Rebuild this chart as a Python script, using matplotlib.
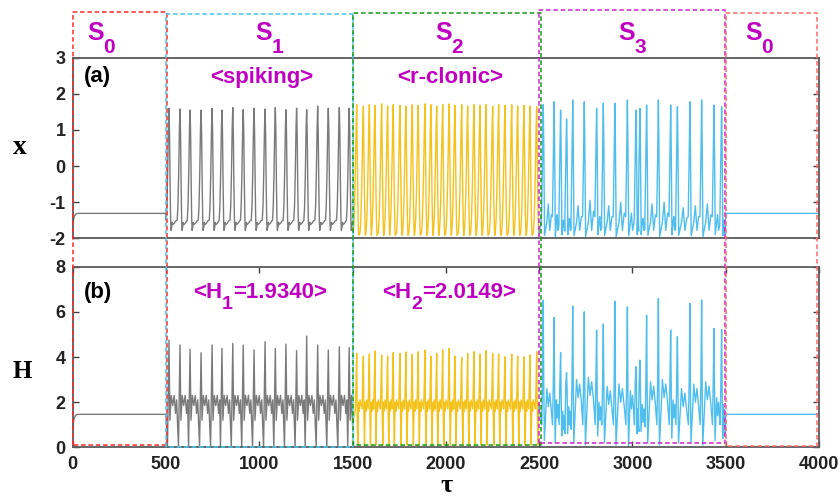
import matplotlib
matplotlib.use('Agg')
import matplotlib.pyplot as plt
from matplotlib.lines import Line2D

W, H = 840, 496

# ---------------- data ----------------
# S0 (rest state), start
s0_t = [0, 8, 18, 30, 500]
s0_x = [-1.60, -1.40, -1.32, -1.31, -1.31]
s0_h = [0.90, 1.30, 1.44, 1.46, 1.46]

# S1 spiking: spike times, peak values
s1_peak_t = [516, 575, 629, 688, 747, 800, 858, 914, 972, 1031, 1086, 1143,
             1200, 1254, 1313, 1370, 1429, 1482]
s1_peak_x = [1.60, 1.58, 1.55, 1.55, 1.60, 1.55, 1.62, 1.56, 1.60, 1.58, 1.62,
             1.56, 1.60, 1.56, 1.66, 1.60, 1.62, 1.60]
s1_peak_h = [4.75, 4.53, 4.34, 4.19, 4.53, 4.38, 4.60, 4.53, 4.31, 4.68, 4.38,
             4.57, 4.28, 4.93, 4.53, 4.31, 4.45, 4.42]
# S1 spike shape (offset from peak, value; None = peak)
s1_x_dt = [-15, -11, -7, -3, 0, 3, 6, 9, 11, 14, 17, 21, 29, 36]
s1_x_v = [-1.50, -1.10, -0.20, 1.05, None, 0.90, -0.50, -1.50, -1.78, -1.70,
          -1.56, -1.62, -1.58, -1.52]
s1_h_dt = [-8, -4, 0, 5, 12, 20, 28, 35, 41]
s1_h_v = [0.0, 2.2, None, 1.2, 2.3, 1.85, 2.3, 1.5, 2.1]

# S2 r-clonic
s2_peak_t = [1522, 1558, 1590, 1620, 1656, 1688, 1718, 1754, 1786, 1820, 1852,
             1888, 1920, 1951, 1983, 2018, 2049, 2085, 2117, 2151, 2183, 2215,
             2251, 2283, 2317, 2353, 2385, 2419, 2451, 2487]
s2_peak_x = [1.70, 1.66, 1.70, 1.68, 1.72, 1.66, 1.70, 1.68, 1.66, 1.70, 1.68,
             1.72, 1.70, 1.66, 1.70, 1.72, 1.68, 1.70, 1.66, 1.70, 1.68, 1.70,
             1.66, 1.70, 1.68, 1.70, 1.66, 1.68, 1.66, 1.64]
s2_peak_h = [4.16, 4.04, 4.13, 4.26, 4.09, 4.04, 4.19, 4.16, 4.22, 4.12, 4.23,
             4.31, 4.04, 4.16, 4.31, 4.38, 4.04, 3.98, 4.16, 4.23, 4.13, 4.28,
             4.16, 4.13, 4.01, 4.13, 4.04, 4.01, 4.09, 4.23]
s2_x_dt = [-18, -14, -10, -6, -3, 0, 3, 6, 9, 11]
s2_x_v = [-1.85, -1.50, -0.80, 0.20, 1.10, None, 0.40, -0.90, -1.70, -1.92]
s2_h_dt = [-7, -4, -2, 0, 3, 6, 10, 14, 18]
s2_h_v = [1.7, 2.6, 3.5, None, 1.5, 0.1, 2.0, 1.6, 2.1]

# S3 chaotic
s3_peak_t = [2522, 2580, 2615, 2647, 2680, 2742, 2808, 2844, 2906, 2973, 3019,
             3040, 3076, 3139, 3205, 3241, 3308, 3371, 3437, 3478]
s3_peak_x = [1.70, 1.78, 1.55, 1.30, 1.83, 1.78, 1.60, 1.74, 1.74, 1.83, 1.55,
             1.60, 1.69, 1.83, 1.69, 1.64, 1.78, 1.83, 1.69, 1.64]
s3_peak_h = [6.52, 5.75, 4.20, 3.30, 6.25, 6.00, 5.19, 5.46, 6.47, 6.22, 3.57,
             3.86, 5.85, 6.59, 5.19, 4.90, 6.37, 6.52, 5.26, 5.22]
s3_trough_x = [-1.92, -1.95, -1.90, -1.90, -1.93, -1.95, -1.90, -1.92, -1.95,
               -1.93, -1.90, -1.90, -1.92, -1.95, -1.90, -1.92, -1.93, -1.95,
               -1.90, -1.92]
s3_bump_x = [-1.05, -1.35, -1.50, -1.45, -1.10, -0.95, -1.40, -1.10, -1.00,
             -1.30, -1.50, -1.45, -1.05, -1.00, -1.40, -1.15, -1.10, -1.05,
             -1.35, -1.50]
s3_trough_h = [0.3, 0.2, 0.5, 0.6, 0.2, 0.1, 0.5, 0.2, 0.1, 0.0, 0.6, 0.7, 0.2,
               0.1, 0.4, 0.2, 0.2, 0.1, 0.3, 0.4]
s3_bump_h = [2.6, 2.1, 1.6, 1.8, 3.0, 3.1, 2.0, 2.7, 2.8, 2.5, 1.7, 1.9, 2.9,
             3.0, 2.1, 2.6, 2.8, 2.9, 2.2, 1.9]

# S0 (rest state), end
s0e_t = [3500, 4000]
s0e_x = [-1.31, -1.31]
s0e_h = [1.46, 1.46]

# state boxes
box_x0 = [0, 500, 1505, 2500, 3502]
box_x1 = [505, 1500, 2508, 3498, 3988]
box_bottom = [0.10, 0.0, 0.10, 0.18, 0.06]
box_colors = ['#ff2a2a', '#44c8ee', '#139a13', '#cc22cc', '#ff6a6a']
box_top_px = [12.3, 14.0, 13.3, 10.0, 12.7]

xticks = [0, 500, 1000, 1500, 2000, 2500, 3000, 3500, 4000]
yticks_a = [-2, -1, 0, 1, 2, 3]
yticks_b = [0, 2, 4, 6, 8]

# ---------------- build line vertices ----------------
def build(peaks_t, peaks_v, dts, vals, t0, t1):
    ts, vs = [], []
    for tp, pv in zip(peaks_t, peaks_v):
        for d, v in zip(dts, vals):
            tt = tp + d
            if t0 < tt < t1:
                ts.append(tt)
                vs.append(pv if v is None else v)
    return ts, vs

def build_s3(kind):
    ts, vs = [2500], [-1.88 if kind == 'x' else 1.8]
    pk = s3_peak_x if kind == 'x' else s3_peak_h
    tr = s3_trough_x if kind == 'x' else s3_trough_h
    bm = s3_bump_x if kind == 'x' else s3_bump_h
    n = len(s3_peak_t)
    first = s3_peak_t[0]
    if kind == 'x':
        ts += [first - 9, first - 4]; vs += [-1.4, 0.2]
    else:
        ts += [first - 8, first - 4]; vs += [1.0, 2.8]
    for i in range(n):
        t = s3_peak_t[i]
        t2 = s3_peak_t[i + 1] if i + 1 < n else 3500
        g = t2 - t
        ts.append(t); vs.append(pk[i])
        if kind == 'x':
            ts += [t + 3, t + 7, t + 0.3 * g + 2, t + 0.45 * g + 1, t + 0.6 * g,
                   t + 0.75 * g]
            vs += [0.5, tr[i], -1.55, bm[i], -1.78, bm[i] - 0.3]
            if i + 1 < n:
                ts += [t2 - 9, t2 - 4]; vs += [-1.4, 0.2]
            else:
                ts += [3497]; vs += [-1.9]
        else:
            ts += [t + 3, t + 6, t + 0.3 * g + 2, t + 0.45 * g + 1, t + 0.6 * g,
                   t + 0.75 * g]
            vs += [2.5, tr[i], bm[i], bm[i] - 0.8, bm[i] - 0.2, bm[i] - 1.0]
            if i + 1 < n:
                ts += [t2 - 8, t2 - 4]; vs += [1.0, 2.8]
            else:
                ts += [3497]; vs += [0.5]
    return ts, vs

# gray: S0 + S1
t, v = build(s1_peak_t, s1_peak_x, s1_x_dt, s1_x_v, 500, 1500)
gray_t = s0_t + t + [1500]
gray_x = s0_x + v + [-1.60]
t, v = build(s1_peak_t, s1_peak_h, s1_h_dt, s1_h_v, 500, 1500)
gray_th = s0_t + t + [1500]
gray_h = s0_h + v + [1.0]

# yellow: S2
t, v = build(s2_peak_t, s2_peak_x, s2_x_dt, s2_x_v, 1500, 2500)
yel_t = [1500] + t + [2500]
yel_x = [-1.60] + v + [-1.88]
t, v = build(s2_peak_t, s2_peak_h, s2_h_dt, s2_h_v, 1500, 2500)
yel_th = [1500] + t + [2500]
yel_h = [1.0] + v + [1.8]

# cyan: S3 + S0
t, v = build_s3('x')
cy_t = t + s0e_t
cy_x = v + s0e_x
t, v = build_s3('h')
cy_th = t + s0e_t
cy_h = v + s0e_h

# ---------------- figure ----------------
plt.rcParams['font.family'] = ['Liberation Sans', 'DejaVu Sans']
plt.rcParams['font.weight'] = 'bold'
plt.rcParams['axes.unicode_minus'] = False

fig = plt.figure(figsize=(W / 100, H / 100), dpi=100)
L, R = 72.7, 819.0
axa = fig.add_axes([L / W, 1 - 238.3 / H, (R - L) / W, (238.3 - 57.7) / H])
axb = fig.add_axes([L / W, 1 - 447.3 / H, (R - L) / W, (447.3 - 266.7) / H])

GRAY = '#7a7a7a'
YEL = '#f5c21b'
CYAN = '#4dbeee'
lw = 1.0

axa.plot(gray_t, gray_x, color=GRAY, lw=lw)
axa.plot(yel_t, yel_x, color=YEL, lw=lw)
axa.plot(cy_t, cy_x, color=CYAN, lw=lw)
axb.plot(gray_th, gray_h, color=GRAY, lw=lw)
axb.plot(yel_th, yel_h, color=YEL, lw=lw)
axb.plot(cy_th, cy_h, color=CYAN, lw=lw)

for ax in (axa, axb):
    ax.set_xlim(0, 4000)
    for s in ax.spines.values():
        s.set_color('#5a5a5a')
        s.set_linewidth(1.3)
    ax.tick_params(direction='in', length=4, width=1.0, colors='#404040',
                   labelsize=13, labelcolor='#222222', right=True, top=True)

axa.set_ylim(-2, 3)
axa.set_yticks(yticks_a)
axa.set_xticks([])
axa.tick_params(axis='y', pad=5)
axb.set_ylim(0, 8)
axb.set_yticks(yticks_b)
axb.set_xticks(xticks)
axb.tick_params(axis='y', pad=5)
axb.tick_params(axis='x', pad=6)
for lab in axa.get_yticklabels() + axb.get_yticklabels() + axb.get_xticklabels():
    lab.set_fontweight('bold')

# axis labels
serif = ['Liberation Serif', 'DejaVu Serif']
fig.text(20 / W, 1 - 148 / H, 'x', family=serif, fontsize=20, fontweight='bold',
         ha='center', va='center')
fig.text(22 / W, 1 - 371 / H, 'H', family=serif, fontsize=18, fontweight='bold',
         ha='center', va='center')
fig.text(447 / W, 1 - 492 / H, 'τ', family=serif, fontsize=19, fontweight='bold',
         ha='center', va='baseline')

# panel letters
fig.text(84 / W, 1 - 82 / H, '(a)', fontsize=16, fontweight='bold', ha='left',
         va='baseline', color='black')
fig.text(84 / W, 1 - 298 / H, '(b)', fontsize=16, fontweight='bold', ha='left',
         va='baseline', color='black')

MAG = '#c000c0'
renderer = fig.canvas.get_renderer()

def sub_text(x_left, base, parts, size, subsize, drop):
    x = x_left
    for s, is_sub in parts:
        y = base + (drop if is_sub else 0)
        t = fig.text(x / W, 1 - y / H, s, fontsize=subsize if is_sub else size,
                     fontweight='bold', color=MAG, ha='left', va='baseline')
        bb = t.get_window_extent(renderer)
        x += bb.width

# state labels
state_left = [87, 255, 435, 618, 745]
state_sub = ['0', '1', '2', '3', '0']
for xl, sub in zip(state_left, state_sub):
    sub_text(xl, 40, [('S', False), (sub, True)], 18, 15, 13)

fig.text(262 / W, 1 - 83 / H, '<spiking>', fontsize=16, fontweight='bold',
         color=MAG, ha='center', va='baseline')
fig.text(450 / W, 1 - 83 / H, '<r-clonic>', fontsize=16, fontweight='bold',
         color=MAG, ha='center', va='baseline')
sub_text(193, 298, [('<H', False), ('1', True), ('=1.9340>', False)], 16, 14, 11)
sub_text(382, 298, [('<H', False), ('2', True), ('=2.0149>', False)], 16, 14, 11)

# state boxes (x in data, bottom in panel-b data, top in figure pixels)
inv = axb.transData.inverted()
for x0, x1, yb, c, tp in zip(box_x0, box_x1, box_bottom, box_colors, box_top_px):
    ytop = inv.transform((0, H - tp))[1]
    ln = Line2D([x0, x0, x1, x1, x0], [yb, ytop, ytop, yb, yb], color=c, lw=1.1,
                linestyle=(0, (3.0, 1.8)), transform=axb.transData, clip_on=False,
                zorder=10)
    axb.add_line(ln)

fig.savefig('out.png', dpi=100)
